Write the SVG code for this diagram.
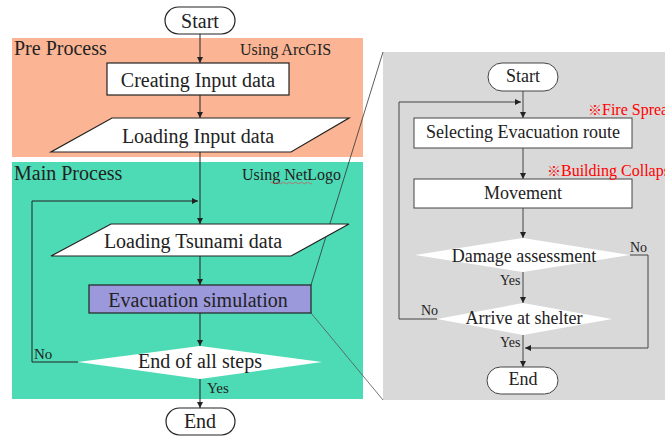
<svg xmlns="http://www.w3.org/2000/svg" width="665" height="436" viewBox="0 0 665 436">
<defs>
<marker id="ah" viewBox="0 0 10 10" refX="10" refY="5" markerWidth="6" markerHeight="6" orient="auto" markerUnits="userSpaceOnUse">
<path d="M0,0 L10,5 L0,10 z" fill="#222"/>
</marker>
<style>
text{font-family:"Liberation Serif","Times New Roman",serif;fill:#222}
.t20{font-size:20px;text-anchor:middle}
.t18{font-size:18px;text-anchor:middle}
.lbl{font-size:15px}
.sm{font-size:14px}
.red{font-family:"Liberation Serif","Times New Roman",serif;font-size:16px;fill:#ff0000}
.kome{font-family:"Noto Sans CJK JP",serif;font-size:14px;fill:#ff0000}
.box{fill:#fff;stroke:#222;stroke-width:1.2}
.ibox{fill:#fff;stroke:#444;stroke-width:1}
.ln{fill:none;stroke:#222;stroke-width:1}
.iln{fill:none;stroke:#444;stroke-width:1}
</style>
</defs>
<!-- Backgrounds -->
<g id="pre-process">
<rect x="12" y="38" width="351" height="119" fill="#FBB594"/>
<text x="14" y="55" style="font-size:20px">Pre Process</text>
<text x="240" y="55" style="font-size:16px">Using ArcGIS</text>
</g>
<g id="main-process">
<rect x="12" y="162" width="351" height="237" fill="#4DDBB5"/>
<text x="14" y="180" style="font-size:20px">Main Process</text>
<text x="242" y="180" style="font-size:16px">Using NetLogo</text>
<path d="M270,183 q1.5,-1.5 3,0 t3,0 t3,0 t3,0 t3,0 t3,0 t3,0 t3,0 t3,0 t3,0 t3,0 t3,0 t3,0 t3,0" fill="none" stroke="#d05050" stroke-width="0.7"/>
</g>
<g id="detail-panel">
<rect x="383" y="52" width="282" height="348" fill="#D9D9D9"/>
</g>
<!-- Connectors -->
<g id="connectors">
<line class="ln" x1="200" y1="34" x2="200" y2="63" marker-end="url(#ah)"/>
<line class="ln" x1="200" y1="95" x2="200" y2="118" marker-end="url(#ah)"/>
<line class="ln" x1="200" y1="152" x2="200" y2="224" marker-end="url(#ah)"/>
<polyline class="ln" points="78,362 32,362 32,201 198,201" marker-end="url(#ah)"/>
<line class="ln" x1="200" y1="256" x2="200" y2="285" marker-end="url(#ah)"/>
<line class="ln" x1="200" y1="313" x2="200" y2="346" marker-end="url(#ah)"/>
<line class="ln" x1="200" y1="379" x2="200" y2="408" marker-end="url(#ah)"/>
<line x1="311" y1="285" x2="383" y2="52" stroke="#333" stroke-width="0.8"/>
<line x1="311" y1="313" x2="383" y2="400" stroke="#555" stroke-width="0.8"/>
<!-- inner -->
<line class="iln" x1="523" y1="91" x2="523" y2="118" marker-end="url(#ah)"/>
<polyline class="iln" points="437,319 399,319 399,102 521,102" marker-end="url(#ah)"/>
<line class="iln" x1="523" y1="148" x2="523" y2="179" marker-end="url(#ah)"/>
<line class="iln" x1="523" y1="208" x2="523" y2="238" marker-end="url(#ah)"/>
<line class="iln" x1="523" y1="272" x2="523" y2="303" marker-end="url(#ah)"/>
<line class="iln" x1="523" y1="335" x2="523" y2="367" marker-end="url(#ah)"/>
<polyline class="iln" points="630,255 648,255 648,348 525,348" marker-end="url(#ah)"/>
<text x="207" y="393" class="lbl">Yes</text>
<text x="34" y="359" class="lbl">No</text>
<text x="500" y="285" class="sm">Yes</text>
<text x="500" y="347" class="sm">Yes</text>
<text x="630" y="252" class="sm">No</text>
<text x="421" y="315" class="sm">No</text>
</g>
<!-- Left nodes -->
<g id="start">
<rect class="box" x="165" y="7" width="70" height="27" rx="13.5"/>
<text class="t20" x="200" y="28">Start</text>
</g>
<g id="creating-input">
<rect class="box" x="107" y="63" width="182" height="32"/>
<text class="t20" x="198" y="87">Creating Input data</text>
</g>
<g id="loading-input">
<polygon class="box" points="112,118 349,118 291,152 51,152"/>
<text class="t20" x="198" y="143">Loading Input data</text>
</g>
<g id="loading-tsunami">
<polygon class="box" points="111,224 349,224 291,256 51,256"/>
<text class="t20" x="193" y="248">Loading Tsunami data</text>
</g>
<g id="evacuation-simulation">
<rect x="89" y="285" width="222" height="28" fill="#9B99DC" stroke="#222" stroke-width="1.2"/>
<text class="t20" x="198" y="307">Evacuation simulation</text>
</g>
<g id="end-of-steps">
<polygon points="200,346 322,362 200,379 78,362" fill="#fff"/>
<text class="t20" x="200" y="368">End of all steps</text>
</g>
<g id="end">
<rect class="box" x="166" y="408" width="69" height="27" rx="13.5"/>
<text class="t20" x="200" y="428">End</text>
</g>
<!-- Inner nodes -->
<g id="in-start">
<rect class="ibox" x="488" y="63" width="70" height="28" rx="14"/>
<text class="t18" x="523" y="82">Start</text>
</g>
<g id="selecting-route">
<rect class="ibox" x="414" y="118" width="218" height="30"/>
<text class="t18" x="523" y="138">Selecting Evacuation route</text>
<text class="red" x="588" y="115"><tspan class="kome">※</tspan>Fire Spread</text>
</g>
<g id="movement">
<rect class="ibox" x="414" y="179" width="218" height="29"/>
<text class="t18" x="523" y="199">Movement</text>
<text class="red" x="547" y="176"><tspan class="kome">※</tspan>Building Collapse</text>
</g>
<g id="damage-assessment">
<polygon points="523,238 630,255 523,272 415,255" fill="#fff"/>
<text class="t18" x="524" y="262">Damage assessment</text>
</g>
<g id="arrive-shelter">
<polygon points="523,303 612,319 523,335 437,319" fill="#fff"/>
<text class="t18" x="524" y="324">Arrive at shelter</text>
</g>
<g id="in-end">
<rect class="ibox" x="487" y="367" width="71" height="27" rx="13.5"/>
<text class="t18" x="523" y="385">End</text>
</g>
</svg>
